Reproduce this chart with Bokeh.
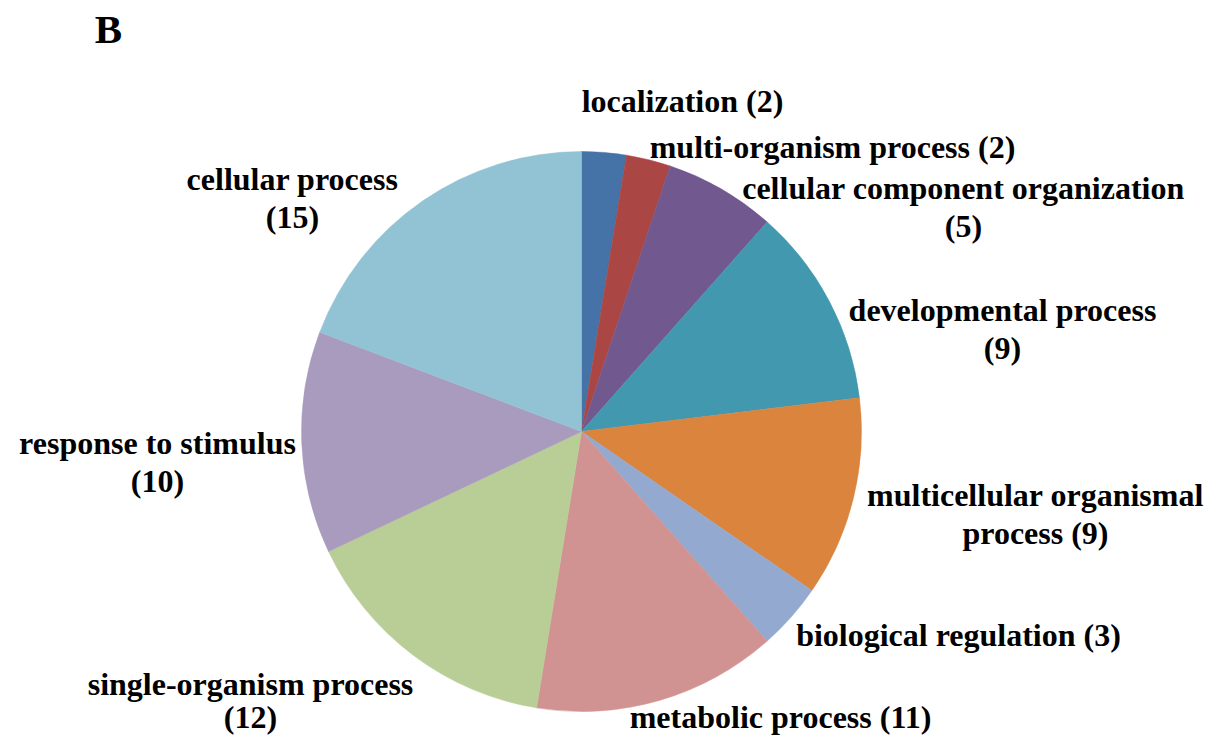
import math
from bokeh.plotting import figure
from bokeh.models import ColumnDataSource, Range1d
from bokeh.core.properties import value
from bokeh.embed import file_html
from bokeh.resources import INLINE

categories = ["localization", "multi-organism process", "cellular component organization",
              "developmental process", "multicellular organismal process", "biological regulation",
              "metabolic process", "single-organism process", "response to stimulus", "cellular process"]
counts = [2, 2, 5, 9, 9, 3, 11, 12, 10, 15]
colors = ["#4572A7", "#AA4643", "#71588F", "#4198AF", "#DB843D", "#93A9CF",
          "#D19392", "#B9CD96", "#A99BBD", "#92C3D4"]
label_lines = [["localization (2)"], ["multi-organism process (2)"],
               ["cellular component organization", "(5)"], ["developmental process", "(9)"],
               ["multicellular organismal", "process (9)"], ["biological regulation (3)"],
               ["metabolic process (11)"], ["single-organism process", "(12)"],
               ["response to stimulus", "(10)"], ["cellular process", "(15)"]]

W, H = 1219, 736
p = figure(width=W, height=H, output_backend="svg", toolbar_location=None,
           x_range=Range1d(0, W), y_range=Range1d(0, H), min_border=0)
p.axis.visible = False
p.grid.visible = False
p.outline_line_color = None

def Y(img_y):
    return H - img_y
def X(img_x):
    return img_x

cx, cy, r = X(581), Y(431), 280
total = sum(counts)
starts, ends = [], []
cum = 0
for c in counts:
    starts.append(math.pi / 2 - 2 * math.pi * cum / total)
    cum += c
    ends.append(math.pi / 2 - 2 * math.pi * cum / total)

src = ColumnDataSource(dict(start=starts, end=ends, color=colors, cat=categories, n=counts))
p.wedge(x=cx, y=cy, radius=r, start_angle="start", end_angle="end", direction="clock",
        fill_color="color", line_color="color", line_width=0.5, source=src)

anchors = [(682, 100), (832, 146), (963, 187), (1002, 309), (1035, 494), (958, 634),
           (780, 716), (250, 683), (157, 442), (292, 178)]
lx, ly, lt = [], [], []
for (ax, ay), lines in zip(anchors, label_lines):
    for i, t in enumerate(lines):
        lx.append(X(ax))
        ly.append(Y(ay + 33 * i if ay > 650 else ay + 38 * i))
        lt.append(t)
p.text(x=lx, y=ly, text=lt, text_font=value("Liberation Serif"), text_font_style="bold",
       text_font_size="32px", text_align="center", text_baseline="middle", text_color="#000000")

p.text(x=[X(108)], y=[Y(28)], text=["B"], text_font=value("Liberation Serif"),
       text_font_style="bold", text_font_size="41px", text_align="center",
       text_baseline="middle", text_color="#000000")

open("out.html", "w").write(file_html(p, INLINE))
